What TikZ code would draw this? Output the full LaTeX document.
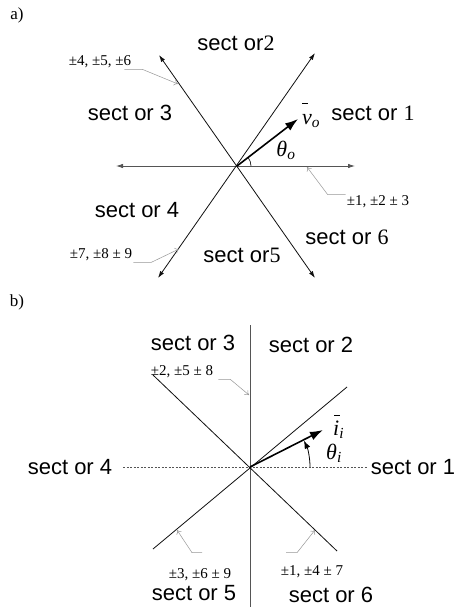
\documentclass[tikz,border=0pt]{standalone}
\usepackage{fontspec}
\setmainfont{Liberation Serif}
\setsansfont{Liberation Sans}
\usetikzlibrary{arrows.meta}
\definecolor{cLine}{RGB}{15,15,15}
\definecolor{cAxis}{RGB}{85,85,85}
\definecolor{cLead}{RGB}{150,150,150}
\newcommand{\barvec}[3]{\rlap{\hspace*{#1}\raisebox{#2}{\rule{6pt}{0.9pt}}}#3}
\tikzset{
  %% sector names
  SEC/.style={font=\fontsize{22}{25}\sffamily\selectfont, inner sep=1pt},
  %% switching-state labels
  PM/.style={font=\fontsize{15}{17}\rmfamily\selectfont, inner sep=1pt},
  %% part tags a), b)
  TAG/.style={font=\fontsize{17}{20}\rmfamily\selectfont},
  %% vector / angle symbols
  SYM/.style={font=\fontsize{22}{26}\rmfamily\itshape\selectfont, inner sep=0pt},
  %% lines
  LN/.style={{Latex[length=7pt,width=4.5pt]}-{Latex[length=7pt,width=4.5pt]},
             line width=0.8pt, color=#1},
  VEC/.style={-{Latex[length=13pt,width=9pt]}, line width=1.6pt},
  LEAD/.style={-{To[length=4pt,width=6pt]}, line width=0.5pt, color=cLead},
}
\begin{document}
\begin{tikzpicture}[x=1pt, y=-1pt]
\useasboundingbox (0,0) rectangle (455,613);

%% ════════════════════════════════════════════════
%%  a)  output voltage hexagon
%% ════════════════════════════════════════════════
\node[TAG] (taga) at (17,15) {a)};

\coordinate (oa) at (237,166);
\coordinate (hl) at (116,166);
\coordinate (hr) at (355,166);
\coordinate (ul) at (159,55);
\coordinate (ur) at (315,53);
\coordinate (ll) at (158,278);
\coordinate (lr) at (315,278);
\coordinate (vo) at (298,119);

\draw[LN=cAxis] (hl) -- (hr);
\draw[LN=cLine] (ll) -- (ur);
\draw[LN=cLine] (lr) -- (ul);
\draw[VEC] (oa) -- (vo);
\draw[line width=0.6pt] ([shift={(0:14)}]oa) arc (0:-37.6:14);

%% sectors
\node[SEC] (sa2) at (236,43)  {sect or{\rmfamily 2}};
\node[SEC] (sa3) at (130,113) {sect or 3};
\node[SEC] (sa1) at (373,113) {sect or {\rmfamily 1}};
\node[SEC] (sa4) at (137,210) {sect or 4};
\node[SEC] (sa5) at (242,255) {sect or{\rmfamily 5}};
\node[SEC] (sa6) at (347,237) {sect or {\rmfamily 6}};

%% symbols
\node[SYM, anchor=base west] (lvo) at (302,124) {\barvec{0pt}{20pt}{v}\textsubscript{o}};
\node[SYM] (lto) at (286,150) {θ\textsubscript{o}};

%% states + leaders
\coordinate (m456) at (178,84);
\coordinate (m123) at (307,167);
\coordinate (m789) at (179,249);
\node[PM] (t456) at (100,62)  {±4, ±5, ±6};
\node[PM] (t123) at (378,202) {±1, ±2 ± 3};
\node[PM] (t789) at (101,255) {±7, ±8 ± 9};
\draw[LEAD] ([xshift=-8pt]t456.south east) -- ++(18,0) -- (m456);
\draw[LEAD] (t123.north west) -- ++(-18,0) -- (m123);
\draw[LEAD] (t789.south east) -- ++(18,0) -- (m789);

%% ════════════════════════════════════════════════
%%  b)  input current hexagon
%% ════════════════════════════════════════════════
\node[TAG] (tagb) at (17,302) {b)};

\coordinate (ob) at (250,467);
\coordinate (vt) at (250,325);
\coordinate (vb) at (250,607);
\coordinate (dl) at (123,467);
\coordinate (dr) at (368,467);
\coordinate (p1) at (153,375);
\coordinate (q1) at (337,551);
\coordinate (p2) at (153,549);
\coordinate (q2) at (347,387);
\coordinate (ii) at (323,430);

\draw[line width=0.8pt, cAxis] (vt) -- (vb);
\draw[dashed, dash pattern=on 2pt off 1.5pt, line width=0.5pt, cAxis] (dl) -- (dr);
\draw[line width=0.8pt, cLine] (p1) -- (q1);
\draw[line width=0.8pt, cLine] (p2) -- (q2);
\draw[VEC] (ob) -- (ii);
\draw[-{Latex[length=8pt,width=6pt]}, line width=0.8pt]
  ([shift={(0:60)}]ob) arc (0:-26:60);

%% sectors
\node[SEC] (sb3) at (193,343) {sect or 3};
\node[SEC] (sb2) at (311,345) {sect or 2};
\node[SEC] (sb4) at (70,467)  {sect or 4};
\node[SEC] (sb1) at (413,467) {sect or 1};
\node[SEC] (sb5) at (194,593) {sect or 5};
\node[SEC] (sb6) at (331,595) {sect or 6};

%% symbols
\node[SYM, anchor=base west] (lii) at (333,435) {\barvec{1pt}{19pt}{i}\textsubscript{i}};
\node[SYM] (lti) at (334,453) {θ\textsubscript{i}};

%% states + leaders
\coordinate (m258) at (249,395);
\coordinate (m369) at (177,530);
\coordinate (m147) at (315,530);
\node[PM] (t258) at (182,372) {±2, ±5 ± 8};
\node[PM] (t369) at (200,575) {±3, ±6 ± 9};
\node[PM] (t147) at (312,572) {±1, ±4 ± 7};
\draw[LEAD] ([xshift=4pt]t258.south east) -- ++(12,0) -- (m258);
\draw[LEAD] ([yshift=15pt, xshift=2pt]t369.north) -- ++(-10,0) -- (m369);
\draw[LEAD] ([yshift=12pt, xshift=-26pt]t147.north) -- ++(11,0) -- (m147);

\end{tikzpicture}
\end{document}
